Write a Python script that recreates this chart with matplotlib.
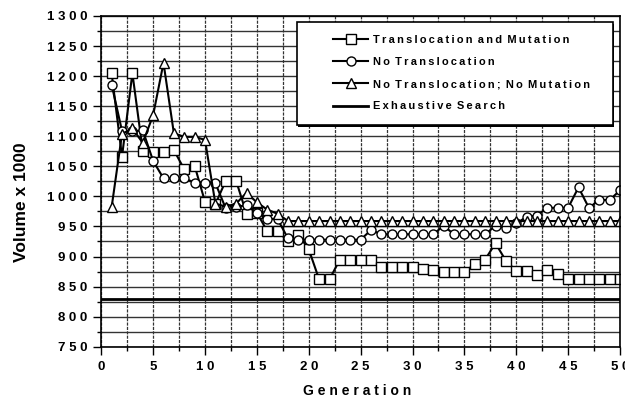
import matplotlib
matplotlib.use("Agg")
from matplotlib import pyplot as plt
from matplotlib.ticker import MultipleLocator, FuncFormatter
from matplotlib.patches import Rectangle
from matplotlib.lines import Line2D

generation = list(range(1, 51))

trans_mut = [1205, 1066, 1205, 1076, 1073, 1074, 1077, 1045, 1051, 991,
             987, 1026, 1026, 971, 973, 942, 942, 926, 936, 912,
             862, 862, 895, 895, 895, 895, 882, 882, 882, 882,
             880, 878, 875, 875, 875, 887, 895, 922, 893, 876,
             876, 870, 877, 871, 863, 863, 863, 863, 863, 863]

no_trans = [1186, 1109, 1108, 1110, 1059, 1030, 1030, 1030, 1023, 1022,
            1022, 980, 983, 985, 973, 963, 962, 930, 928, 928,
            928, 928, 928, 928, 928, 944, 937, 937, 937, 937,
            937, 937, 951, 937, 937, 937, 937, 951, 947, 955,
            966, 968, 981, 981, 981, 1015, 981, 994, 994, 1010]

no_trans_no_mut = [982, 1104, 1113, 1089, 1135, 1222, 1105, 1099, 1099, 1094,
                   988, 983, 988, 1006, 990, 978, 971, 959, 959, 959,
                   959, 959, 959, 959, 959, 959, 959, 959, 959, 959,
                   959, 959, 959, 959, 959, 959, 959, 959, 959, 959,
                   959, 959, 959, 959, 959, 959, 959, 959, 959, 959]

exhaustive = 830

labels = ["Translocation and Mutation", "No Translocation",
          "No Translocation; No Mutation", "Exhaustive Search"]

FONT = ["Liberation Sans", "DejaVu Sans"]
plt.rcParams["font.family"] = FONT
plt.rcParams["font.weight"] = "bold"


def spaced(s, sep=" "):
    return sep.join(s)


def legend_text(s):
    return "\u2009".join(s).replace("\u2009 \u2009", " \u2009")


fig = plt.figure(figsize=(6.25, 4.03), dpi=100)
ax = fig.add_axes([0.162, 0.1397, 0.830, 0.8206])

ax.set_xlim(0, 50)
ax.set_ylim(750, 1300)
ax.xaxis.set_major_locator(MultipleLocator(5))
ax.xaxis.set_minor_locator(MultipleLocator(2.5))
ax.yaxis.set_major_locator(MultipleLocator(50))
ax.yaxis.set_minor_locator(MultipleLocator(25))

fmt = FuncFormatter(lambda v, p: spaced(str(int(round(v)))))
ax.xaxis.set_major_formatter(fmt)
ax.yaxis.set_major_formatter(fmt)

ax.grid(True, which="both", axis="y", color="0.2", lw=1.0, ls="-")
ax.grid(True, which="both", axis="x", color="0.2", lw=0.9, ls=(0, (2.5, 1)))
ax.set_axisbelow(True)

ax.tick_params(axis="both", which="major", direction="out", length=6, width=1,
               labelsize=9.5, pad=4)
ax.tick_params(axis="both", which="minor", direction="out", length=3, width=1)
for lab in ax.get_xticklabels() + ax.get_yticklabels():
    lab.set_fontweight("bold")
for sp in ax.spines.values():
    sp.set_linewidth(1.2)
    sp.set_color("black")

mk = dict(color="black", lw=1.5, markerfacecolor="white",
          markeredgecolor="black", markeredgewidth=1.0)
ax.plot(generation, trans_mut, marker="s", markersize=7, **mk)
ax.plot(generation, no_trans, marker="o", markersize=6.5, **mk)
ax.plot(generation, no_trans_no_mut, marker="^", markersize=7.5, **mk)
ax.axhline(exhaustive, color="black", lw=2)

fig.text(357 / 625, 1 - 391 / 403, spaced("Generation"), ha="center",
         va="center", fontsize=10, fontweight="bold")
fig.text(21.5 / 625, 1 - 202 / 403, "Volume x 1000", rotation=90, ha="center",
         va="center", fontsize=12.5, fontweight="bold")

# legend box drawn by hand so the padding matches
box = Rectangle((0.3767, 0.670), 0.609, 0.311, transform=ax.transAxes,
                facecolor="white", edgecolor="black", lw=1.2, zorder=4)
ax.add_patch(box)
shadow = Rectangle((0.3767 + 0.003, 0.670 - 0.005), 0.609, 0.311,
                   transform=ax.transAxes, facecolor="black",
                   edgecolor="none", zorder=3.9)
ax.add_patch(shadow)

handles = [
    Line2D([], [], marker="s", markersize=7, **mk),
    Line2D([], [], marker="o", markersize=6.5, **mk),
    Line2D([], [], marker="^", markersize=7.5, **mk),
    Line2D([], [], color="black", lw=2),
]
leg = ax.legend(handles, [legend_text(l) for l in labels], loc="upper left",
                bbox_to_anchor=(0.4467, 0.942), frameon=False, borderpad=0,
                borderaxespad=0, handlelength=3.2, handletextpad=0.45,
                labelspacing=1.1, prop={"size": 7.9, "weight": "bold"})
leg.set_zorder(5)

fig.savefig("out.png", dpi=100)
